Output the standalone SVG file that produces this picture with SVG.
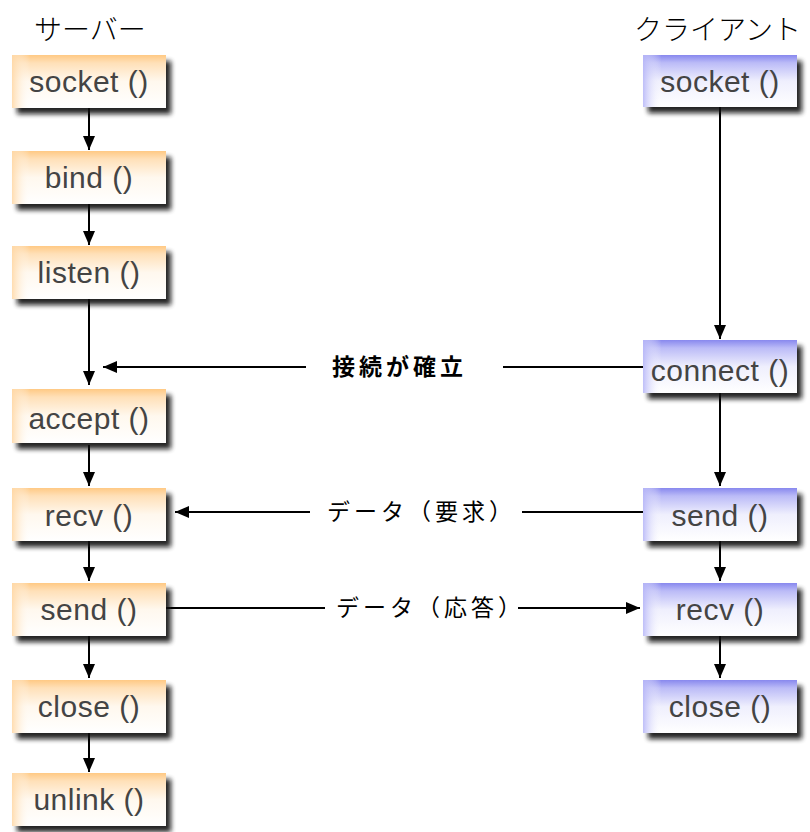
<svg xmlns="http://www.w3.org/2000/svg" width="810" height="832" viewBox="0 0 810 832">
<defs>
<linearGradient id="gs" x1="0" y1="0" x2="0" y2="1">
<stop offset="0" stop-color="#FFC984"/>
<stop offset="0.15" stop-color="#FFE0B8"/>
<stop offset="0.5" stop-color="#FFF8EE"/>
<stop offset="1" stop-color="#FFFFFF"/>
</linearGradient>
<linearGradient id="gc" x1="0" y1="0" x2="0" y2="1">
<stop offset="0" stop-color="#8888EE"/>
<stop offset="0.15" stop-color="#BBBBF7"/>
<stop offset="0.5" stop-color="#EFEFFD"/>
<stop offset="1" stop-color="#FFFFFF"/>
</linearGradient>
<linearGradient id="ls" x1="0" y1="0" x2="1" y2="0">
<stop offset="0" stop-color="#FFD9A8" stop-opacity="0.9"/>
<stop offset="0.12" stop-color="#FFFFFF" stop-opacity="0"/>
</linearGradient>
<linearGradient id="lc" x1="0" y1="0" x2="1" y2="0">
<stop offset="0" stop-color="#B8B8F8" stop-opacity="0.9"/>
<stop offset="0.12" stop-color="#FFFFFF" stop-opacity="0"/>
</linearGradient>
<filter id="sh" x="-20%" y="-30%" width="140%" height="170%">
<feGaussianBlur stdDeviation="2.5"/>
</filter>
<marker id="ah" viewBox="0 0 14 12" refX="14" refY="6" markerWidth="14" markerHeight="12" markerUnits="userSpaceOnUse" orient="auto">
<path d="M0,0 L14,6 L0,12 Z" fill="#000"/>
</marker>
<style>
.shadow{fill:#111;opacity:0.9;filter:url(#sh)}
.bs{fill:url(#gs)}
.bc{fill:url(#gc)}
.es{fill:url(#ls)}
.ec{fill:url(#lc)}
.lbl{font-family:"Liberation Sans",Arial,sans-serif;font-size:30px;fill:#444;text-anchor:middle;letter-spacing:0.5px}
.ttl{font-family:"Noto Sans CJK JP",sans-serif;font-size:28px;font-weight:300;fill:#000}
.cl{font-family:"Noto Sans CJK JP",sans-serif;font-size:23px;fill:#000;letter-spacing:4px}
.b{font-weight:bold}
.ln{stroke:#000;stroke-width:2;fill:none}
.arr{stroke:#000;stroke-width:2;fill:none;marker-end:url(#ah)}
</style>
</defs>
<text class="ttl" x="34" y="40">サーバー</text>
<text class="ttl" x="634" y="40">クライアント</text>

<g id="connectors">
<line class="arr" x1="89" y1="108" x2="89" y2="150"/>
<line class="arr" x1="89" y1="204" x2="89" y2="245"/>
<line class="arr" x1="89" y1="299" x2="89" y2="385"/>
<line class="arr" x1="89" y1="445" x2="89" y2="486"/>
<line class="arr" x1="89" y1="541" x2="89" y2="581"/>
<line class="arr" x1="89" y1="636" x2="89" y2="678"/>
<line class="arr" x1="89" y1="733" x2="89" y2="772"/>
<line class="arr" x1="720" y1="107" x2="720" y2="339"/>
<line class="arr" x1="720" y1="393" x2="720" y2="486"/>
<line class="arr" x1="720" y1="541" x2="720" y2="581"/>
<line class="arr" x1="720" y1="636" x2="720" y2="678"/>
<line class="ln" x1="643" y1="367" x2="503" y2="367"/>
<line class="arr" x1="306" y1="367" x2="103" y2="367"/>
<text class="cl b" x="332" y="375">接続が確立</text>
<line class="ln" x1="643" y1="512" x2="522" y2="512"/>
<line class="arr" x1="310" y1="512" x2="175" y2="512"/>
<text class="cl" x="327" y="520">データ（要求）</text>
<line class="ln" x1="166" y1="608" x2="325" y2="608"/>
<line class="arr" x1="518" y1="608" x2="640" y2="608"/>
<text class="cl" x="336" y="616">データ（応答）</text>
</g>

<g id="s-socket"><rect class="shadow" x="17" y="61" width="154" height="53"/><rect class="bs" x="12" y="55" width="154" height="53"/><rect class="es" x="12" y="55" width="154" height="53"/><text class="lbl" x="89" y="92">socket ()</text></g>
<g id="s-bind"><rect class="shadow" x="17" y="157" width="154" height="53"/><rect class="bs" x="12" y="151" width="154" height="53"/><rect class="es" x="12" y="151" width="154" height="53"/><text class="lbl" x="89" y="188">bind ()</text></g>
<g id="s-listen"><rect class="shadow" x="17" y="252" width="154" height="53"/><rect class="bs" x="12" y="246" width="154" height="53"/><rect class="es" x="12" y="246" width="154" height="53"/><text class="lbl" x="89" y="283">listen ()</text></g>
<g id="s-accept"><rect class="shadow" x="17" y="395" width="154" height="54"/><rect class="bs" x="12" y="389" width="154" height="54"/><rect class="es" x="12" y="389" width="154" height="54"/><text class="lbl" x="89" y="429">accept ()</text></g>
<g id="s-recv"><rect class="shadow" x="17" y="494" width="154" height="53"/><rect class="bs" x="12" y="488" width="154" height="53"/><rect class="es" x="12" y="488" width="154" height="53"/><text class="lbl" x="89" y="526">recv ()</text></g>
<g id="s-send"><rect class="shadow" x="17" y="589" width="154" height="53"/><rect class="bs" x="12" y="583" width="154" height="53"/><rect class="es" x="12" y="583" width="154" height="53"/><text class="lbl" x="89" y="620">send ()</text></g>
<g id="s-close"><rect class="shadow" x="17" y="686" width="154" height="53"/><rect class="bs" x="12" y="680" width="154" height="53"/><rect class="es" x="12" y="680" width="154" height="53"/><text class="lbl" x="89" y="717">close ()</text></g>
<g id="s-unlink"><rect class="shadow" x="17" y="779" width="154" height="53"/><rect class="bs" x="12" y="773" width="154" height="53"/><rect class="es" x="12" y="773" width="154" height="53"/><text class="lbl" x="89" y="810">unlink ()</text></g>

<g id="c-socket"><rect class="shadow" x="648" y="61" width="154" height="52"/><rect class="bc" x="643" y="55" width="154" height="52"/><rect class="ec" x="643" y="55" width="154" height="52"/><text class="lbl" x="720" y="92">socket ()</text></g>
<g id="c-connect"><rect class="shadow" x="648" y="346" width="154" height="53"/><rect class="bc" x="643" y="340" width="154" height="53"/><rect class="ec" x="643" y="340" width="154" height="53"/><text class="lbl" x="720" y="381">connect ()</text></g>
<g id="c-send"><rect class="shadow" x="648" y="494" width="154" height="53"/><rect class="bc" x="643" y="488" width="154" height="53"/><rect class="ec" x="643" y="488" width="154" height="53"/><text class="lbl" x="720" y="526">send ()</text></g>
<g id="c-recv"><rect class="shadow" x="648" y="589" width="154" height="53"/><rect class="bc" x="643" y="583" width="154" height="53"/><rect class="ec" x="643" y="583" width="154" height="53"/><text class="lbl" x="720" y="620">recv ()</text></g>
<g id="c-close"><rect class="shadow" x="648" y="686" width="154" height="53"/><rect class="bc" x="643" y="680" width="154" height="53"/><rect class="ec" x="643" y="680" width="154" height="53"/><text class="lbl" x="720" y="717">close ()</text></g>
</svg>
